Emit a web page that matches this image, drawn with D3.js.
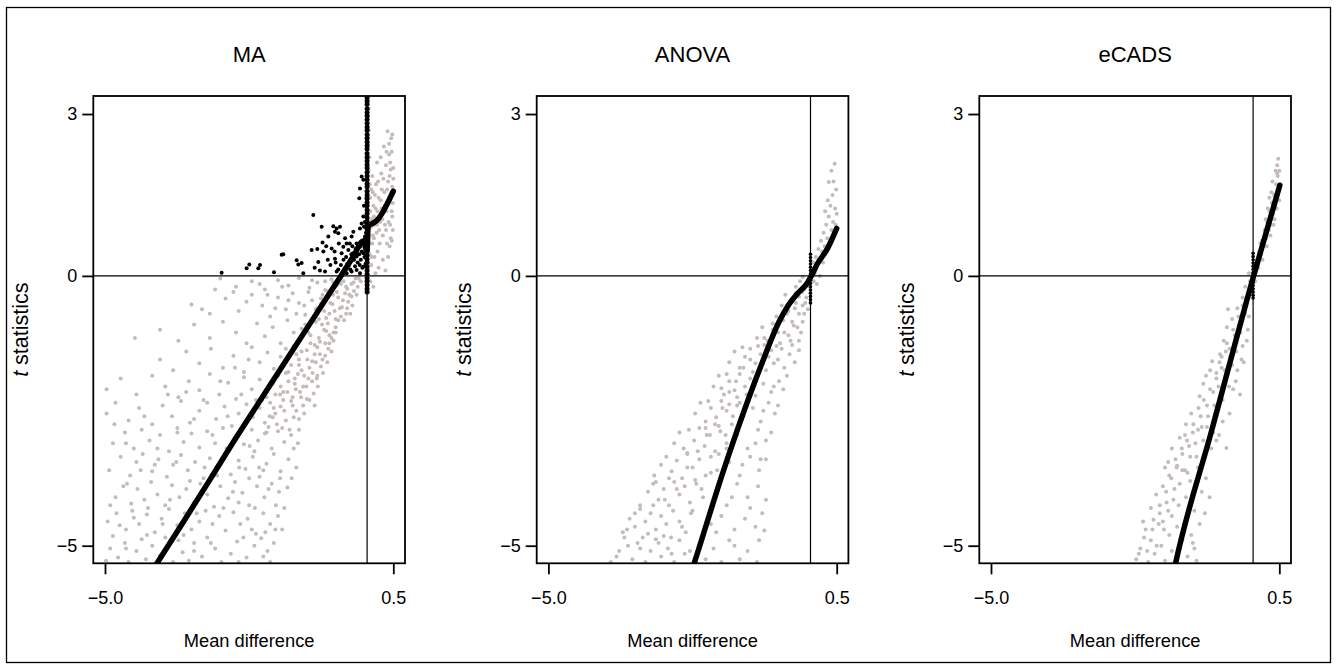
<!DOCTYPE html>
<html>
<head>
<meta charset="utf-8">
<script src="https://cdn.jsdelivr.net/npm/d3@7"></script>
<style>
  html, body { margin: 0; padding: 0; background: #fff; }
  svg { display: block; font-family: "Liberation Sans", Arial, Helvetica, sans-serif; }
</style>
</head>
<body>
<svg id="chart" width="1336" height="669"></svg>
<script>
// ---------------- DATA ----------------
const panelTitles = ["MA", "ANOVA", "eCADS"];
const xTickValues = [-5.0, 0.5];
const yTickValues = [3, 0, -5];
const xAxisLabel = "Mean difference";
const yAxisLabelItalic = "t";
const yAxisLabelRest = " statistics";

// MA: gray points [mean difference, t]
const maGray = [
  [-4.98,-5.28],[-4.9,-5.05],[-4.75,-5.22],[-4.62,-4.95],[-4.55,-5.3],[-4.4,-5.1],[-4.3,-4.88],[-4.22,-5.25],[-4.1,-5.0],[-3.95,-5.18],[-3.7,-5.3],[-3.6,-4.9],[-3.52,-5.12],[-3.4,-5.28],[-3.3,-4.95],[-3.15,-5.2],[-3.05,-4.85],[-2.9,-5.05],[-2.78,-5.3],[-2.6,-5.15],[-2.48,-4.92],[-2.3,-5.22],[-2.15,-5.0],[-2.02,-4.86],[-1.9,-5.1],[-1.78,-4.95],[-4.85,-4.82],[-3.85,-4.85],
  [-4.95,-4.55],[-4.78,-4.4],[-4.6,-4.7],[-4.48,-4.35],[-4.35,-4.6],[-4.2,-4.42],[-4.05,-4.75],[-3.92,-4.5],[-3.78,-4.32],[-3.62,-4.62],[-3.48,-4.4],[-3.35,-4.7],[-3.2,-4.55],[-3.08,-4.35],[-2.95,-4.6],[-2.82,-4.45],[-2.7,-4.72],[-2.55,-4.38],[-2.42,-4.6],[-2.28,-4.5],[-2.12,-4.78],[-1.98,-4.4],[-1.85,-4.6],[-1.7,-4.45],[-1.62,-4.7],
  [-4.8,-4.1],[-4.65,-3.9],[-4.5,-4.22],[-4.38,-3.95],[-4.25,-4.15],[-4.12,-3.82],[-4.0,-4.05],[-3.85,-4.25],[-3.72,-3.88],[-3.58,-4.1],[-3.45,-3.95],[-3.3,-4.2],[-3.18,-3.85],[-3.05,-4.05],[-2.92,-4.28],[-2.8,-3.9],[-2.65,-4.12],[-2.52,-3.82],[-2.38,-4.02],[-2.25,-4.25],[-2.1,-3.9],[-1.96,-4.1],[-1.82,-3.85],[-1.68,-4.0],[-1.52,-3.92],[-2.45,-4.2],
  [-4.92,-3.6],[-4.7,-3.35],[-4.52,-3.7],[-4.4,-3.45],[-4.28,-3.3],[-4.1,-3.62],[-3.98,-3.4],[-3.82,-3.72],[-3.7,-3.5],[-3.55,-3.32],[-3.42,-3.6],[-3.28,-3.45],[-3.12,-3.75],[-3.0,-3.38],[-2.88,-3.55],[-2.72,-3.3],[-2.6,-3.68],[-2.45,-3.42],[-2.32,-3.58],[-2.18,-3.35],[-2.05,-3.72],[-1.92,-3.48],[-1.78,-3.3],[-1.65,-3.62],[-1.5,-3.4],[-1.35,-3.55],[-2.25,-3.75],[-1.98,-3.6],
  [-4.85,-3.1],[-4.62,-2.9],[-4.45,-3.2],[-4.3,-2.85],[-4.15,-3.05],[-3.95,-2.95],[-3.78,-3.25],[-3.62,-2.82],[-3.5,-3.08],[-3.35,-2.92],[-3.2,-3.18],[-3.05,-2.88],[-2.9,-3.1],[-2.75,-2.82],[-2.62,-3.22],[-2.48,-2.98],[-2.35,-3.12],[-2.2,-2.85],[-2.08,-3.05],[-1.95,-2.92],[-1.82,-3.2],[-1.7,-2.88],[-1.58,-3.08],[-1.45,-2.95],[-1.3,-2.85],[-1.88,-2.8],[-2.15,-3.25],[-1.62,-2.82],
  [-4.97,-2.55],[-4.8,-2.35],[-4.55,-2.68],[-4.35,-2.45],[-4.1,-2.75],[-3.9,-2.4],[-3.72,-2.6],[-3.55,-2.32],[-3.38,-2.72],[-3.2,-2.5],[-3.05,-2.35],[-2.88,-2.65],[-2.72,-2.42],[-2.58,-2.78],[-2.45,-2.55],[-2.3,-2.38],[-2.18,-2.62],[-2.05,-2.45],[-1.95,-2.72],[-1.85,-2.35],[-1.75,-2.55],[-1.65,-2.42],[-1.55,-2.68],[-1.45,-2.32],[-1.35,-2.5],[-1.22,-2.4],[-1.8,-2.62],[-1.6,-2.3],[-1.4,-2.62],[-2.0,-2.3],
  [-4.97,-2.1],[-4.7,-1.9],[-4.4,-2.2],[-4.1,-1.85],[-3.85,-2.05],[-3.6,-2.25],[-3.4,-1.95],[-3.2,-2.12],[-3.0,-1.82],[-2.82,-2.2],[-2.65,-1.98],[-2.5,-2.28],[-2.35,-1.88],[-2.2,-2.1],[-2.05,-1.92],[-1.92,-2.25],[-1.8,-2.0],[-1.7,-1.85],[-1.6,-2.15],[-1.5,-1.95],[-1.42,-2.25],[-1.32,-1.82],[-1.22,-2.05],[-1.12,-1.9],[-1.02,-2.18],[-0.95,-1.85],[-1.75,-2.2],[-1.55,-1.8],[-1.38,-2.0],[-1.15,-2.28],[-1.65,-2.05],[-1.28,-2.15],
  [-4.43,-1.15],[-3.95,-1.55],[-3.7,-1.75],[-3.45,-1.4],[-3.2,-1.62],[-2.98,-1.35],[-2.75,-1.7],[-2.55,-1.48],[-2.35,-1.78],[-2.2,-1.32],[-2.05,-1.6],[-1.9,-1.42],[-1.78,-1.72],[-1.65,-1.5],[-1.55,-1.35],[-1.45,-1.65],[-1.35,-1.45],[-1.25,-1.75],[-1.15,-1.38],[-1.05,-1.58],[-0.95,-1.32],[-0.88,-1.68],[-0.8,-1.48],[-0.74,-1.35],[-1.5,-1.78],[-1.1,-1.7],[-1.3,-1.55],[-1.0,-1.45],[-0.85,-1.55],[-1.4,-1.3],
  [-3.95,-1.0],[-3.6,-1.2],[-3.3,-0.9],[-3.0,-1.15],[-2.75,-0.85],[-2.5,-1.05],[-2.3,-1.25],[-2.1,-0.88],[-1.95,-1.12],[-1.8,-0.95],[-1.65,-1.25],[-1.52,-0.82],[-1.4,-1.05],[-1.28,-1.2],[-1.18,-0.9],[-1.08,-1.1],[-0.98,-0.85],[-0.9,-1.22],[-0.82,-1.0],[-0.75,-0.88],[-0.68,-1.15],[-0.6,-0.95],[-0.55,-0.82],[-1.0,-1.28],[-0.72,-1.25],[-1.25,-0.98],[-0.86,-0.9],[-0.64,-1.05],
  [-3.35,-0.53],[-3.0,-0.7],[-2.7,-0.42],[-2.45,-0.65],[-2.2,-0.35],[-2.0,-0.55],[-1.85,-0.75],[-1.7,-0.4],[-1.55,-0.62],[-1.42,-0.32],[-1.3,-0.5],[-1.18,-0.72],[-1.05,-0.45],[-0.95,-0.6],[-0.85,-0.35],[-0.78,-0.78],[-0.7,-0.5],[-0.62,-0.65],[-0.55,-0.4],[-0.48,-0.58],[-0.42,-0.32],[-0.36,-0.48],[-0.3,-0.38],[-0.5,-0.75],[-0.65,-0.35],[-0.4,-0.7],[-0.88,-0.52],[-1.12,-0.3],
  [-2.8,-0.05],[-2.5,-0.2],[-2.2,-0.1],[-1.95,-0.25],[-1.7,-0.08],[-1.5,-0.18],[-1.3,-0.04],[-1.1,-0.22],[-0.95,-0.12],[-0.8,-0.26],[-0.68,-0.06],[-0.58,-0.18],[-0.45,-0.1],[-0.38,-0.24],[-0.3,-0.15],[-0.22,-0.05],[-0.18,-0.2],[-0.12,-0.1],[-0.25,-0.28],
  [0.02,2.95],[0.03,2.7],[0.02,2.45],[0.04,2.2],[0.03,1.95],[0.05,1.7],[0.06,1.45],[0.08,1.6],[0.1,1.85],[0.12,1.3],[0.13,1.1],[0.15,1.5],[0.17,1.7],[0.18,0.8],[0.2,1.2],[0.22,1.45],[0.24,0.6],[0.25,1.0],[0.27,1.9],[0.28,1.25],[0.3,0.75],[0.32,2.4],[0.33,1.55],[0.34,0.95],[0.36,2.05],[0.37,1.2],[0.38,0.6],[0.39,2.68],[0.4,1.75],[0.41,1.0],[0.42,2.25],[0.43,0.55],[0.44,1.45],[0.45,1.97],[0.46,2.55],[0.47,1.2],[0.48,1.65],[0.49,0.85],[0.5,2.0],[0.05,0.4],[0.08,0.2],[0.1,0.6],[0.14,0.35],[0.16,0.05],[0.2,0.45],[0.12,-0.2],[0.06,-0.1],[0.22,0.15],[0.3,0.3],[0.35,0.1],[0.4,0.35],[0.45,0.7],[0.07,0.9],[0.09,1.05],[0.11,0.75],[0.19,2.1],[0.26,2.2],[0.14,0.95],[0.28,1.6],[0.48,1.1]
];
const maGrayExtra = [
  [-1.92,-2.9],[-1.86,-2.6],[-1.78,-2.45],[-1.72,-2.75],[-1.66,-2.2],[-1.58,-2.5],[-1.52,-2.15],[-1.48,-2.85],[-1.42,-2.4],[-1.36,-2.1],[-1.3,-2.65],[-1.26,-2.25],[-1.2,-2.55],[-1.16,-2.05],[-1.1,-2.3],[-1.05,-1.95],[-1.0,-2.4],[-0.94,-2.05],
  [-1.38,-1.9],[-1.3,-1.65],[-1.25,-1.4],[-1.2,-1.85],[-1.14,-1.55],[-1.08,-1.25],[-1.04,-1.8],[-0.98,-1.6],[-0.92,-1.15],[-0.9,-1.45],[-0.84,-1.8],[-0.8,-1.25],[-0.76,-1.6],[-0.72,-1.1],[-0.68,-1.4],[-0.64,-1.2],[-0.6,-1.05],[-0.78,-1.02],[-1.12,-1.05],[-0.96,-1.9],
  [-0.98,-0.62],[-0.92,-0.8],[-0.88,-0.42],[-0.82,-0.65],[-0.76,-0.28],[-0.72,-0.7],[-0.66,-0.52],[-0.6,-0.8],[-0.58,-0.3],[-0.52,-0.6],[-0.5,-0.15],[-0.46,-0.45],[-0.44,-0.82],[-0.4,-0.2],[-0.38,-0.6],[-0.34,-0.35],[-0.32,-0.7],[-0.28,-0.55],[-0.26,-0.12],[-0.2,-0.35],[-0.16,-0.05],[-0.64,-0.12],[-0.8,-0.1],[-1.05,-0.08],[-1.2,-0.55],[-1.35,-0.7],[-1.5,-0.45],[-1.62,-0.2],[-1.75,-0.6],[-1.9,-0.35],[-2.05,-0.15],[-2.3,-0.48],[-2.55,-0.3],[-2.9,-0.25],[-3.15,-0.62],
  [-4.9,-4.25],[-4.72,-4.62],[-4.58,-3.85],[-4.45,-4.48],[-4.32,-3.6],[-4.18,-4.3],[-4.05,-3.5],[-3.9,-4.6],[-3.76,-4.15],[-3.64,-3.45],[-3.5,-4.8],[-3.38,-3.8],[-3.25,-4.4],[-3.1,-3.55],[-2.98,-4.95],[-2.86,-3.7],[-2.74,-4.3],[-2.68,-3.2],[-2.56,-4.0],[-2.44,-3.55],[-2.36,-4.85],[-2.24,-3.15],[-2.14,-4.3],[-2.06,-3.55],[-1.94,-4.75],[-1.88,-3.95],[-1.74,-4.25],[-1.66,-3.75],[-1.58,-4.3],[-1.44,-3.75],[-1.4,-3.2],[-1.32,-3.1],[-4.82,-2.75],[-4.6,-3.1],[-4.25,-2.6],[-4.0,-3.2],[-3.8,-2.2],[-3.62,-2.9],[-3.45,-2.15],[-3.3,-2.65],[-3.12,-2.3],[-2.95,-2.95],[-2.8,-1.95],[-2.66,-2.6],[-2.52,-1.7],[-2.4,-2.2],[-2.26,-1.55],[-2.12,-2.3],[-4.6,-5.05],[-4.2,-4.8],[-3.3,-5.1],[-2.45,-5.3],[-2.2,-4.7],[-1.98,-5.2],[-1.85,-5.3],[-1.75,-4.7],
  [0.04,0.6],[0.06,1.2],[0.09,0.35],[0.11,1.55],[0.13,0.7],[0.16,1.25],[0.19,0.95],[0.21,1.75],[0.23,0.85],[0.26,1.4],[0.29,1.05],[0.31,1.8],[0.34,1.3],[0.36,0.85],[0.38,1.6],[0.41,1.35],[0.43,1.85],[0.44,0.95],[0.46,1.55],[0.47,0.65],[0.49,1.35],[0.5,1.8],[0.42,2.45],[0.44,2.1],[0.47,2.3],[0.48,2.62],[0.37,2.3],[0.03,3.1],[0.02,2.6]
];
// MA: highlighted (black) points
const maBlack = [
  [-2.775,0.06],[-2.298,0.14],[-2.247,0.21],[-2.075,0.14],[-2.043,0.2],[-1.776,0.07],[-1.63,0.39],[-1.6,0.4],[-1.344,0.29],[-1.312,0.21],[-1.249,0.24],[-1.217,0.05],[-1.058,0.48],[-1.026,1.13],[-0.931,0.26],[-0.867,0.91],[-0.835,0.45],[-0.803,0.08],[-0.74,0.73],[-0.676,0.51],[-0.644,0.92],[-0.613,0.82],[-0.581,0.88],[-0.549,0.79],[-0.517,0.91],[-0.613,0.32],[-0.581,0.08],[-0.486,0.42],[-0.454,0.54],[-0.39,0.6],[-0.422,0.14],[-0.358,0.48],[-0.327,0.29],[-0.295,0.73],[-0.263,0.82],[-0.2,0.6],[-0.2,0.36],[-0.136,0.88],[-0.136,0.54],[-0.104,0.97],[-0.104,1.84],[-0.072,1.78],[-0.136,1.62],[-0.149,1.44],[-0.072,1.1],[-0.059,0.91],[-0.04,0.73],[-0.072,0.17],[-0.136,0.05],[-0.2,0.11],[-0.295,0.08],[-0.39,0.05],
  [-0.45,0.3],[-0.4,0.35],[-0.35,0.2],[-0.3,0.4],[-0.25,0.3],[-0.22,0.5],[-0.18,0.25],[-0.15,0.4],[-0.12,0.3],[-0.1,0.45],[-0.08,0.6],[-0.05,0.35],[-0.03,0.5],[-0.5,0.2],[-0.55,0.12],[-0.6,0.25],[-0.7,0.2],[-0.75,0.3],[-0.9,0.1],[-1.0,0.15],[-0.48,0.05],[-0.62,0.45],[-0.78,0.55],[-0.85,0.62],[-0.95,0.5],[-0.54,0.6],[-0.42,0.7],[-0.33,0.6],[-0.28,0.55],[-0.06,1.3],[-0.04,1.0],[-0.02,0.8],
  [-0.38,0.22],[-0.32,0.12],[-0.27,0.42],[-0.23,0.18],[-0.17,0.52],[-0.14,0.2],[-0.11,0.62],[-0.09,0.15],[-0.07,0.42],[-0.05,0.68],[-0.03,0.22],[-0.02,0.62],[-0.01,1.45]
];
// MA: dense column of black points sitting at mean difference 0
const maZeroColumn = [3.3,3.24,3.18,3.1,3.03,2.97,2.9,2.83,2.76,2.7,2.62,2.55,2.48,2.41,2.35,2.27,2.2,2.13,2.06,2.0,1.92,1.85,1.78,1.71,1.65,1.57,1.5,1.43,1.36,1.3,1.22,1.15,1.08,1.01,0.95,0.87,0.8,0.73,0.66,0.6,0.52,0.45,0.38,0.31,0.25,0.17,0.1,0.03,-0.04,-0.1,-0.17,-0.24,-0.3];
// MA: fitted curve
const maCurve = [[-4.07,-5.42],[-3.5,-4.55],[-3.0,-3.78],[-2.5,-3.0],[-2.0,-2.25],[-1.5,-1.5],[-1.0,-0.75],[-0.5,0.0],[-0.25,0.38],[-0.08,0.64],[-0.02,0.5],[0.0,0.47],[0.02,0.93],[0.1,0.97],[0.18,1.02],[0.28,1.15],[0.38,1.33],[0.5,1.57]];

// ANOVA
const anovaGray = [
  [-3.81,-5.3],[-3.65,-5.1],[-3.55,-4.85],[-3.4,-5.25],[-3.3,-4.95],[-3.15,-5.3],[-3.05,-5.1],[-2.95,-4.88],[-2.85,-5.2],[-2.72,-5.05],[-2.6,-5.3],[-2.5,-4.9],[-2.4,-5.15],[-2.0,-5.25],[-1.85,-5.05],[-1.7,-5.3],[-1.55,-4.9],[-1.35,-5.25],[-1.2,-5.1],[-1.02,-5.3],[-3.48,-5.0],[-2.8,-4.82],
  [-3.58,-4.75],[-3.45,-4.5],[-3.35,-4.65],[-3.25,-4.32],[-3.15,-4.55],[-3.05,-4.4],[-2.95,-4.7],[-2.85,-4.45],[-2.75,-4.6],[-2.62,-4.35],[-2.5,-4.55],[-2.38,-4.75],[-2.28,-4.4],[-1.9,-4.6],[-1.7,-4.45],[-1.45,-4.7],[-1.25,-4.5],[-1.05,-4.65],[-0.88,-4.72],[-0.92,-4.4],[-3.1,-4.78],
  [-3.25,-4.25],[-3.1,-4.0],[-3.0,-3.85],[-2.9,-4.15],[-2.8,-3.95],[-2.7,-4.25],[-2.6,-3.82],[-2.5,-4.05],[-2.4,-3.9],[-2.3,-4.2],[-2.18,-3.85],[-2.05,-4.1],[-1.8,-4.0],[-1.6,-4.25],[-1.4,-3.85],[-1.2,-4.1],[-1.0,-3.9],[-0.85,-4.15],[-2.95,-3.82],
  [-2.98,-3.7],[-2.85,-3.5],[-2.75,-3.35],[-2.65,-3.62],[-2.55,-3.42],[-2.45,-3.75],[-2.35,-3.3],[-2.25,-3.55],[-2.12,-3.4],[-2.0,-3.7],[-1.9,-3.35],[-1.78,-3.6],[-1.55,-3.45],[-1.35,-3.7],[-1.15,-3.35],[-0.98,-3.6],[-0.85,-3.4],[-2.7,-3.75],[-2.2,-3.78],
  [-2.6,-3.1],[-2.5,-2.9],[-2.42,-3.2],[-2.32,-2.85],[-2.22,-3.05],[-2.12,-2.82],[-2.02,-3.15],[-1.92,-2.95],[-1.82,-3.25],[-1.72,-2.88],[-1.6,-3.1],[-1.4,-2.95],[-1.2,-3.2],[-1.0,-2.85],[-0.85,-3.05],[-0.75,-2.9],[-2.35,-3.28],[-2.0,-2.82],
  [-2.2,-2.55],[-2.1,-2.35],[-2.0,-2.7],[-1.9,-2.45],[-1.8,-2.62],[-1.7,-2.32],[-1.6,-2.5],[-1.5,-2.75],[-1.4,-2.4],[-1.28,-2.6],[-1.1,-2.45],[-0.95,-2.7],[-0.8,-2.35],[-0.68,-2.55],[-1.95,-2.32],[-1.75,-2.78],[-1.55,-2.38],
  [-1.85,-2.05],[-1.75,-1.85],[-1.65,-2.2],[-1.55,-1.95],[-1.45,-2.12],[-1.35,-1.82],[-1.25,-2.05],[-1.15,-1.9],[-1.05,-2.22],[-0.9,-2.0],[-0.75,-2.15],[-0.6,-1.95],[-0.52,-2.1],[-1.6,-1.82],[-1.4,-2.25],[-1.7,-2.08],
  [-1.55,-1.6],[-1.45,-1.4],[-1.35,-1.7],[-1.25,-1.5],[-1.15,-1.35],[-1.05,-1.62],[-0.95,-1.45],[-0.85,-1.75],[-0.75,-1.38],[-0.62,-1.55],[-0.5,-1.7],[-0.4,-1.45],[-0.3,-1.6],[-0.22,-1.38],[-1.3,-1.32],[-1.1,-1.78],[-0.7,-1.62],
  [-1.02,-1.15],[-0.92,-0.95],[-0.82,-1.2],[-0.72,-0.88],[-0.62,-1.05],[-0.52,-0.82],[-0.42,-1.1],[-0.32,-0.92],[-0.22,-1.2],[-0.15,-0.85],[-0.88,-1.28],[-0.58,-1.25],[-0.35,-1.28],
  [-0.65,-0.75],[-0.55,-0.55],[-0.45,-0.7],[-0.38,-0.45],[-0.3,-0.6],[-0.22,-0.38],[-0.15,-0.55],[-0.08,-0.4],[-0.12,-0.7],[-0.48,-0.35],[-0.28,-0.32],[-0.05,-0.62],
  [-0.28,-0.2],[-0.2,-0.1],[-0.12,-0.25],[-0.05,-0.08],[-0.02,-0.2],[-0.15,-0.02],
  [0.02,0.1],[0.05,0.25],[0.08,0.05],[0.1,0.35],[0.12,0.2],[0.15,0.5],[0.18,0.3],[0.2,0.65],[0.22,0.45],[0.25,0.8],[0.27,0.55],[0.3,0.95],[0.32,0.7],[0.35,1.1],[0.36,0.6],[0.38,1.3],[0.4,0.85],[0.42,1.5],[0.43,1.0],[0.44,1.75],[0.45,0.75],[0.46,2.08],[0.47,1.25],[0.48,0.95],[0.49,1.6],[0.5,1.15],[0.35,1.74],[0.4,1.95],[0.33,1.4],[0.28,1.2],[0.24,0.25],[0.06,-0.1],[0.12,-0.15],[0.18,0.0]
];
const anovaGrayExtra = [
  [-3.7,-5.2],[-3.5,-4.7],[-3.35,-4.4],[-3.2,-4.85],[-3.0,-4.25],[-2.9,-4.95],[-2.78,-4.15],[-2.66,-4.85],[-2.55,-3.95],[-2.45,-4.65],[-2.35,-3.55],[-2.25,-4.35],[-2.15,-3.25],[-2.08,-3.95],[-1.98,-2.95],[-1.9,-3.65],[-1.82,-2.75],[-1.75,-3.3],[-1.68,-2.45],[-1.62,-2.95],[-1.55,-2.15],[-1.48,-2.6],[-1.42,-1.95],[-1.35,-2.35],[-1.28,-1.7],[-1.22,-2.2],[-1.15,-1.55],[-1.08,-1.95],[-1.0,-1.3],[-0.95,-1.7],[-0.88,-1.15],[-0.8,-1.5],[-0.72,-1.0],[-0.65,-1.3],[-0.58,-0.85],[-0.5,-1.05],[-0.42,-0.65],[-0.35,-0.85],[-0.28,-0.5],[-0.22,-0.7],[-0.16,-0.3],[-0.1,-0.5],
  [-0.7,-2.05],[-0.62,-2.4],[-0.55,-1.35],[-0.45,-1.85],[-0.38,-1.2],[-0.25,-0.95],[-0.18,-1.05],[-1.05,-3.1],[-0.95,-3.4],[-0.9,-2.5],[-1.3,-3.5],[-1.5,-4.1],[-1.6,-3.2],[-1.15,-4.3],[-0.98,-4.9],[-1.45,-5.0],[-1.8,-4.75],[-2.1,-4.95],[-2.3,-5.1],[-2.65,-5.15],[-3.25,-5.05]
];
const anovaZeroColumn = [0.4,0.34,0.28,0.22,0.16,0.1,0.04,-0.02,-0.08,-0.14,-0.2,-0.26,-0.32,-0.38,-0.44,-0.5];
const anovaCurve = [[-2.25,-5.42],[-2.22,-5.33],[-1.65,-3.58],[-0.95,-1.68],[-0.6,-0.85],[-0.44,-0.57],[-0.25,-0.33],[-0.06,-0.13],[0.016,0.0],[0.13,0.22],[0.32,0.5],[0.5,0.88]];

// eCADS
const ecadsGray = [
  [-2.23,-5.25],[-2.15,-5.05],[-2.05,-4.7],[-2.0,-5.3],[-1.95,-4.9],[-1.88,-5.15],[-1.8,-4.6],[-1.75,-5.0],[-1.68,-5.28],[-1.6,-4.8],[-1.55,-5.1],[-1.45,-4.65],[-1.35,-4.9],[-1.25,-5.2],[-1.15,-4.95],[-1.08,-5.28],[-2.1,-4.55],[-1.9,-4.52],[-1.7,-4.7],
  [-1.95,-4.3],[-1.85,-4.05],[-1.78,-4.4],[-1.72,-3.9],[-1.65,-4.2],[-1.6,-3.7],[-1.55,-4.45],[-1.5,-3.95],[-1.42,-4.25],[-1.35,-3.6],[-1.28,-4.1],[-1.2,-3.8],[-1.12,-4.35],[-1.05,-3.55],[-0.98,-4.0],[-0.9,-3.75],[-0.83,-4.1],[-1.68,-3.55],[-1.45,-3.52],[-1.25,-3.65],[-0.92,-4.4],
  [-1.62,-3.45],[-1.55,-3.2],[-1.48,-3.4],[-1.4,-3.0],[-1.35,-3.3],[-1.28,-2.75],[-1.22,-3.15],[-1.15,-2.9],[-1.08,-3.35],[-1.0,-2.6],[-0.95,-3.05],[-0.88,-2.8],[-0.8,-3.2],[-0.72,-2.55],[-0.65,-2.95],[-0.58,-2.7],[-0.51,-3.19],[-1.18,-2.55],[-1.3,-2.95],[-1.05,-2.85],
  [-1.02,-2.23],[-0.95,-2.0],[-0.88,-2.4],[-0.82,-1.75],[-0.76,-2.15],[-0.7,-1.9],[-0.64,-1.6],[-0.58,-2.3],[-0.52,-1.85],[-0.46,-2.05],[-0.4,-1.65],[-0.33,-1.95],[-0.25,-2.2],[-0.22,-1.55],[-0.78,-1.58],[-0.6,-1.7],[-0.9,-1.85],
  [-0.63,-1.45],[-0.56,-1.2],[-0.5,-0.95],[-0.45,-1.35],[-0.4,-0.8],[-0.35,-1.1],[-0.3,-0.6],[-0.25,-0.9],[-0.2,-1.3],[-0.15,-0.7],[-0.1,-1.0],[-0.48,-0.62],[-0.52,-1.4],[-0.32,-1.4],[-0.18,-0.55],
  [-0.2,-0.4],[-0.15,-0.2],[-0.1,-0.35],[-0.06,-0.1],[-0.03,-0.25],[0.02,0.05],[0.05,0.2],[0.08,0.3],[0.1,0.15],[0.12,0.45],[-0.08,0.05],[0.04,-0.1],
  [0.15,0.4],[0.17,0.65],[0.2,0.55],[0.22,0.85],[0.25,0.7],[0.27,1.0],[0.3,0.85],[0.32,1.2],[0.34,0.95],[0.36,1.35],[0.38,1.15],[0.4,1.5],[0.42,1.3],[0.44,1.7],[0.45,1.45],[0.47,1.85],[0.48,2.17],[0.49,1.6],[0.5,1.95],[0.46,2.05],[0.43,1.95],[0.41,1.05],[0.35,1.55],[0.28,1.25]
];
const ecadsGrayExtra = [
  [-2.18,-5.15],[-2.08,-4.85],[-2.02,-5.1],[-1.92,-4.7],[-1.84,-5.0],[-1.78,-4.25],[-1.72,-4.55],[-1.66,-4.0],[-1.62,-4.35],[-1.56,-3.75],[-1.52,-4.15],[-1.46,-3.55],[-1.4,-3.85],[-1.36,-3.2],[-1.3,-3.6],[-1.26,-3.05],[-1.2,-3.35],[-1.14,-2.75],[-1.1,-3.1],[-1.04,-2.45],[-0.98,-2.8],[-0.94,-2.3],[-0.86,-2.6],[-0.82,-2.1],[-0.74,-2.4],[-0.7,-1.8],[-0.66,-2.05],[-0.6,-1.5],[-0.54,-1.75],[-0.5,-1.25],[-0.44,-1.5],[-0.38,-1.0],[-0.34,-1.25],[-0.28,-0.75],[-0.24,-1.05],[-0.2,-0.55],[-0.14,-0.45],
  [-1.32,-4.6],[-1.22,-4.35],[-1.18,-4.8],[-1.12,-5.05],[-1.02,-4.6],[-0.96,-3.4],[-0.76,-2.9],[-0.7,-3.05],[-0.45,-2.55],[-0.38,-2.1],[-0.3,-1.75],[-0.18,-1.6],[-0.12,-1.2],[-0.08,-0.75],
  [0.14,0.6],[0.18,0.3],[0.24,1.05],[0.26,0.55],[0.31,1.45],[0.33,0.75],[0.37,1.75],[0.39,0.95],[0.45,1.25],[0.47,1.6],[0.5,1.4],[0.46,1.9]
];
const ecadsZeroColumn = [0.42,0.36,0.3,0.24,0.18,0.12,0.06,0,-0.06,-0.12,-0.18,-0.24,-0.3,-0.36,-0.41];
const ecadsCurve = [[-1.5,-5.42],[-1.48,-5.33],[-0.8,-2.9],[0.01,0.0],[0.51,1.68]];

const xDomain = [-5.223, 0.723];
const yDomain = [-5.326, 3.334];

// ---------------- LAYOUT ----------------
const panelLefts = [93.3, 536.7, 979.3];
const boxW = 311.7, boxTop = 96, boxH = 467.3;
const grayColor = "#c3bcb9";

const svg = d3.select("#chart");

// outer frame
svg.append("rect")
  .attr("x", 6.5).attr("y", 7.5).attr("width", 1324).attr("height", 655)
  .attr("fill", "none").attr("stroke", "#000").attr("stroke-width", 1.3);

const x = d3.scaleLinear().domain(xDomain).range([0, boxW]);
const y = d3.scaleLinear().domain(yDomain).range([boxH, 0]);

const panels = [
  { title: panelTitles[0], gray: maGray.concat(maGrayExtra), black: maBlack, zero: maZeroColumn, zr: 2.5, curve: maCurve },
  { title: panelTitles[1], gray: anovaGray.concat(anovaGrayExtra), black: [], zero: anovaZeroColumn, zr: 1.8, curve: anovaCurve },
  { title: panelTitles[2], gray: ecadsGray.concat(ecadsGrayExtra), black: [], zero: ecadsZeroColumn, zr: 1.8, curve: ecadsCurve }
];

const line = d3.line().x(d => x(d[0])).y(d => y(d[1])).curve(d3.curveMonotoneX);

panels.forEach((p, i) => {
  const g = svg.append("g").attr("transform", `translate(${panelLefts[i]},${boxTop})`);
  const clipId = "clip" + i;
  g.append("clipPath").attr("id", clipId)
    .append("rect").attr("x", 0).attr("y", 0).attr("width", boxW).attr("height", boxH);

  const plot = g.append("g").attr("clip-path", `url(#${clipId})`);

  // gray points
  plot.append("g").selectAll("circle").data(p.gray).join("circle")
    .attr("cx", d => x(d[0])).attr("cy", d => y(d[1])).attr("r", 2.0)
    .attr("fill", grayColor);

  // reference lines
  plot.append("line").attr("x1", 0).attr("x2", boxW).attr("y1", y(0)).attr("y2", y(0))
    .attr("stroke", "#000").attr("stroke-width", 1.2);
  plot.append("line").attr("x1", x(0)).attr("x2", x(0)).attr("y1", 0).attr("y2", boxH)
    .attr("stroke", "#000").attr("stroke-width", 1.2);

  // black points
  plot.append("g").selectAll("circle").data(p.black).join("circle")
    .attr("cx", d => x(d[0])).attr("cy", d => y(d[1])).attr("r", 2.0)
    .attr("fill", "#000");
  plot.append("g").selectAll("circle").data(p.zero).join("circle")
    .attr("cx", x(0)).attr("cy", d => y(d)).attr("r", p.zr)
    .attr("fill", "#000");

  // fitted curve
  plot.append("path").datum(p.curve).attr("d", line)
    .attr("fill", "none").attr("stroke", "#000").attr("stroke-width", 5.5)
    .attr("stroke-linecap", "round").attr("stroke-linejoin", "round");

  // box
  g.append("rect").attr("x", 0).attr("y", 0).attr("width", boxW).attr("height", boxH)
    .attr("fill", "none").attr("stroke", "#000").attr("stroke-width", 1.8);

  // axes
  const xAxis = d3.axisBottom(x).tickValues(xTickValues).tickSize(11).tickPadding(17)
    .tickFormat(d3.format(".1f"));
  const gx = g.append("g").attr("transform", `translate(0,${boxH})`).call(xAxis);
  const yAxis = d3.axisLeft(y).tickValues(yTickValues).tickSize(11).tickPadding(5)
    .tickFormat(d3.format("d"));
  const gy = g.append("g").call(yAxis);
  [gx, gy].forEach(a => {
    a.select(".domain").remove();
    a.selectAll(".tick line").attr("stroke", "#000").attr("stroke-width", 1.8);
    a.selectAll(".tick text").attr("fill", "#000").attr("font-size", 18)
      .attr("font-family", "'Liberation Sans', Arial, Helvetica, sans-serif");
  });

  // title
  g.append("text").attr("x", boxW / 2).attr("y", 61.7 - boxTop)
    .attr("text-anchor", "middle").attr("font-size", 22).attr("fill", "#000")
    .text(p.title);

  // x label
  g.append("text").attr("x", boxW / 2).attr("y", 646.7 - boxTop)
    .attr("text-anchor", "middle").attr("font-size", 18.3).attr("fill", "#000")
    .text(xAxisLabel);

  // y label
  const yl = g.append("text")
    .attr("transform", `translate(-65.3,${boxH / 2}) rotate(-90)`)
    .attr("text-anchor", "middle").attr("font-size", 21.5).attr("fill", "#000");
  yl.append("tspan").attr("font-style", "italic").text(yAxisLabelItalic);
  yl.append("tspan").text(yAxisLabelRest);
});
</script>
</body>
</html>
